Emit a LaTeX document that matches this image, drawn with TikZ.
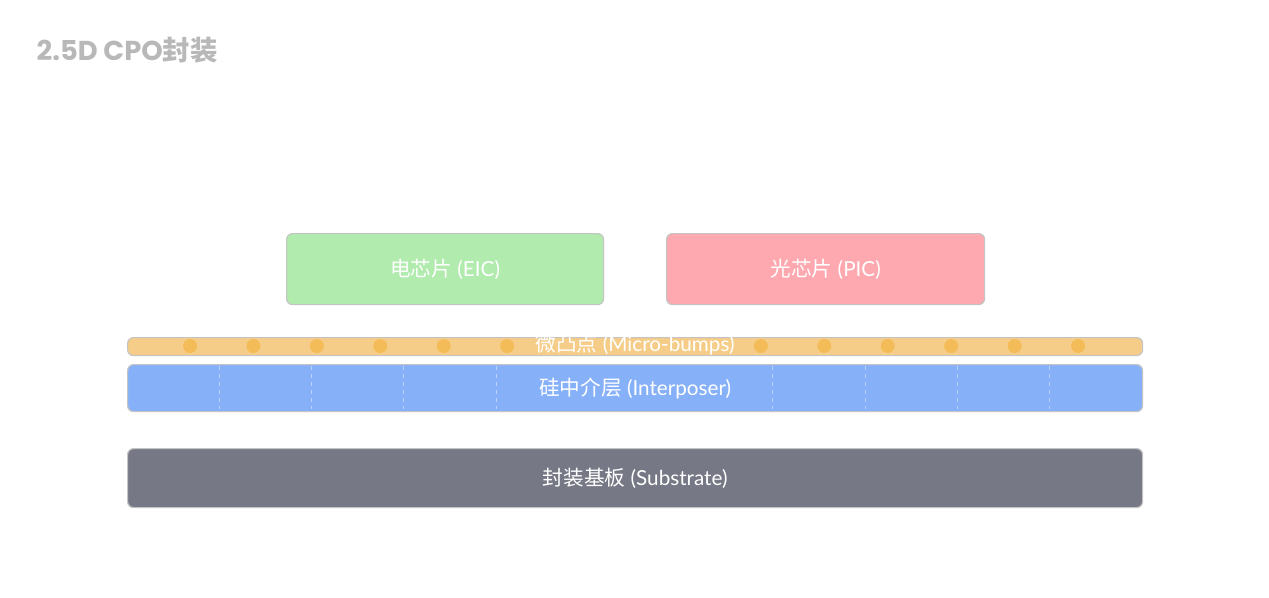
\documentclass[tikz,border=0pt]{standalone}
\usepackage{fontspec}
\setmainfont{Lato}
\newfontfamily\cjk{Noto Sans CJK SC}
\newfontfamily\titlefont{Poppins}
\definecolor{bumpc}{HTML}{F6CD88}
\definecolor{dotc}{HTML}{F3BC58}
\definecolor{interc}{HTML}{86B1F9}
\definecolor{subc}{HTML}{767886}
\definecolor{eicc}{HTML}{B1EBAE}
\definecolor{picc}{HTML}{FEA9AF}
\definecolor{edgec}{HTML}{C4C4C4}
\definecolor{dashc}{HTML}{B9D2FB}
\definecolor{titlec}{HTML}{B8B8B8}
\begin{document}
\begin{tikzpicture}[x=0.75pt,y=-0.75pt,
  layer/.style={draw=edgec,line width=0.9pt,rounded corners=4.5pt,anchor=north west,inner sep=0pt},
  lbl/.style={text=white,font=\fontsize{15.5}{18}\selectfont,inner sep=1pt},
  bump/.style={circle,fill=dotc,minimum size=10.5pt,inner sep=0pt},
  divider/.style={dashc,line width=0.8pt,dash pattern=on 3pt off 3pt}]
\useasboundingbox[fill=white] (0,0) rectangle (1269,597);
\node[anchor=west,text=titlec,font=\titlefont\bfseries\fontsize{20.5}{24}\selectfont] (title) at (32,50) {2.5D CPO{\cjk\bfseries 封装}};
% chips
\node[layer,fill=eicc,minimum width=317*0.75pt,minimum height=71*0.75pt] (eic) at (286,233) {};
\node[lbl] (eiclbl) at (eic.center) {{\cjk 电芯片} (EIC)};
\node[layer,fill=picc,minimum width=318*0.75pt,minimum height=71*0.75pt] (pic) at (666,233) {};
\node[lbl] (piclbl) at (pic.center) {{\cjk 光芯片} (PIC)};
% micro-bump bar
\node[layer,fill=bumpc,minimum width=1015*0.75pt,minimum height=18*0.75pt] (bumps) at (127,337) {};
\foreach \i in {0,...,5,9,10,...,14}{
  \node[bump] (b\i) at ({190+\i*63.43},346) {};
}
\node[lbl] (bumplbl) at (635,345) {{\cjk 微凸点} (Micro-bumps)};
% interposer
\node[layer,fill=interc,minimum width=1015*0.75pt,minimum height=47*0.75pt] (inter) at (127,364) {};
\foreach \k in {1,2,3,4,7,8,9,10}{
  \draw[divider] ({127+\k*92.27},366) -- ({127+\k*92.27},409);
}
\node[lbl] (interlbl) at (inter.center) {{\cjk 硅中介层} (Interposer)};
% substrate
\node[layer,fill=subc,minimum width=1015*0.75pt,minimum height=59*0.75pt] (sub) at (127,448) {};
\node[lbl] (sublbl) at (sub.center) {{\cjk 封装基板} (Substrate)};
\end{tikzpicture}
\end{document}
